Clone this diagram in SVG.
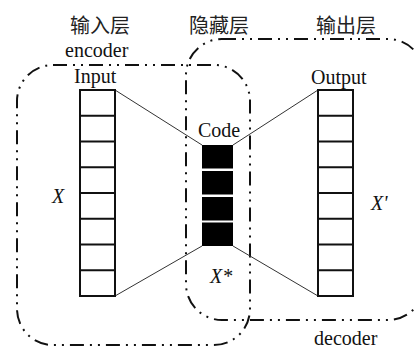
<svg xmlns="http://www.w3.org/2000/svg" width="416" height="349" viewBox="0 0 416 349">
  <style>
    .region { fill: none; stroke: #111; stroke-width: 2; stroke-dasharray: 14 6 2 6 2 6; }
    .cell { fill: #fff; stroke: #111; stroke-width: 2; }
    .code { fill: #000; }
    .link { stroke: #333; stroke-width: 1; fill: none; }
    text { font-family: 'Liberation Serif', 'DejaVu Serif', 'Noto Sans CJK SC', serif; font-size: 20px; fill: #111; }
    .cjk { fill: #222; text-anchor: middle; }
    .var { font-style: italic; }
  </style>

  <!-- layer titles -->
  <g id="titles">
    <text class="cjk" x="100" y="33">输入层</text>
    <text class="cjk" x="219" y="33">隐藏层</text>
    <text class="cjk" x="346" y="33">输出层</text>
  </g>

  <!-- encoder / decoder regions -->
  <g id="encoder">
    <rect class="region" x="17" y="65" width="233" height="280" rx="36" ry="36"/>
    <text x="65" y="57">encoder</text>
  </g>
  <g id="decoder">
    <rect class="region" x="186" y="39" width="238" height="281" rx="36" ry="36"/>
    <text x="314" y="345">decoder</text>
  </g>

  <!-- connectors between layers -->
  <g id="connectors">
    <line class="link" x1="115" y1="90" x2="202" y2="145"/>
    <line class="link" x1="115" y1="296" x2="202" y2="246"/>
    <line class="link" x1="233" y1="145" x2="318" y2="90"/>
    <line class="link" x1="233" y1="246" x2="318" y2="296"/>
  </g>

  <!-- input layer: 8 cells -->
  <g id="input-layer">
    <rect class="cell" x="80" y="90" width="35" height="206"/>
    <line class="cell" x1="80" y1="115.75" x2="115" y2="115.75"/>
    <line class="cell" x1="80" y1="141.5" x2="115" y2="141.5"/>
    <line class="cell" x1="80" y1="167.25" x2="115" y2="167.25"/>
    <line class="cell" x1="80" y1="193" x2="115" y2="193"/>
    <line class="cell" x1="80" y1="218.75" x2="115" y2="218.75"/>
    <line class="cell" x1="80" y1="244.5" x2="115" y2="244.5"/>
    <line class="cell" x1="80" y1="270.25" x2="115" y2="270.25"/>
    <text x="74" y="83">Input</text>
    <text class="var" x="52" y="203">X</text>
  </g>

  <!-- code layer: 4 filled units -->
  <g id="code-layer">
    <rect class="code" x="202" y="145" width="31" height="23.5"/>
    <rect class="code" x="202" y="171" width="31" height="23.5"/>
    <rect class="code" x="202" y="197" width="31" height="23.5"/>
    <rect class="code" x="202" y="222.5" width="31" height="23.5"/>
    <text x="198" y="137">Code</text>
    <text class="var" x="210" y="283">X*</text>
  </g>

  <!-- output layer: 8 cells -->
  <g id="output-layer">
    <rect class="cell" x="318" y="90" width="35" height="206"/>
    <line class="cell" x1="318" y1="115.75" x2="353" y2="115.75"/>
    <line class="cell" x1="318" y1="141.5" x2="353" y2="141.5"/>
    <line class="cell" x1="318" y1="167.25" x2="353" y2="167.25"/>
    <line class="cell" x1="318" y1="193" x2="353" y2="193"/>
    <line class="cell" x1="318" y1="218.75" x2="353" y2="218.75"/>
    <line class="cell" x1="318" y1="244.5" x2="353" y2="244.5"/>
    <line class="cell" x1="318" y1="270.25" x2="353" y2="270.25"/>
    <text x="311" y="84">Output</text>
    <text class="var" x="371" y="210">X'</text>
  </g>
</svg>
